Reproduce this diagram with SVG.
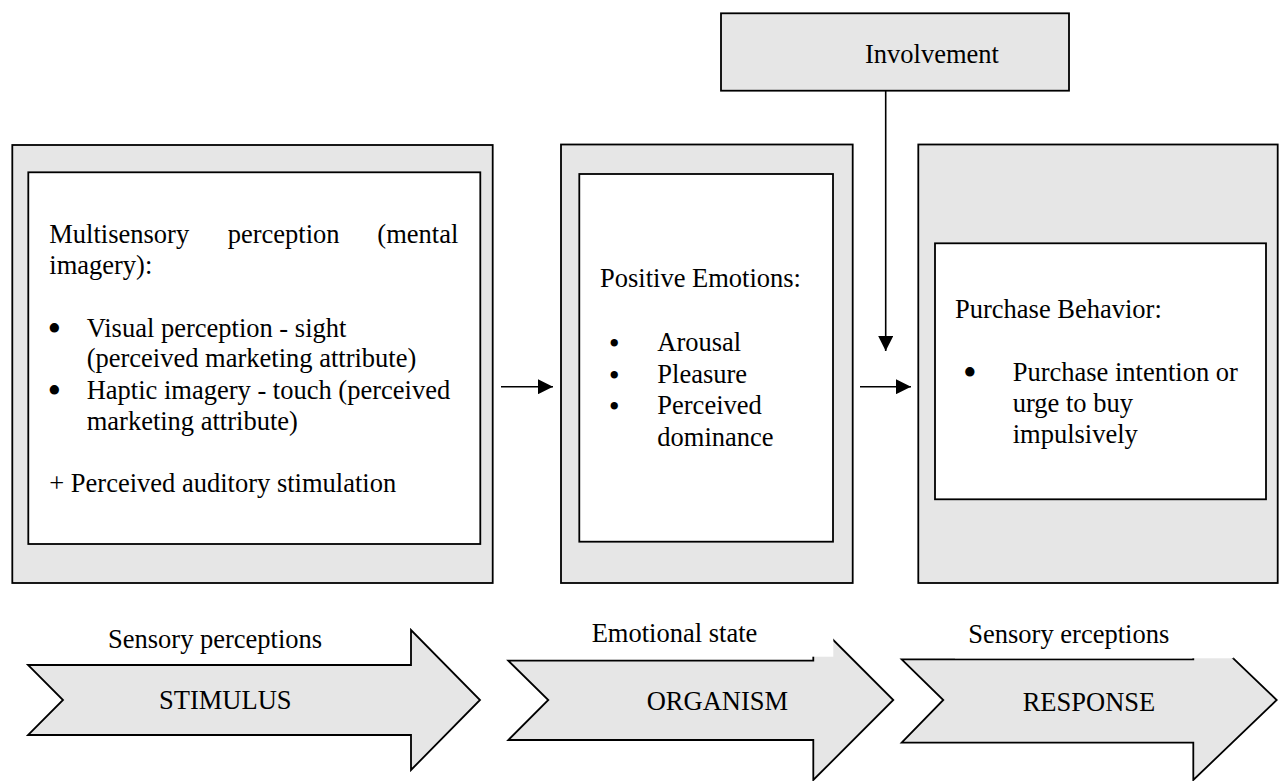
<svg xmlns="http://www.w3.org/2000/svg" width="1284" height="781" viewBox="0 0 1284 781">
<defs>
<style>
.box{fill:#e6e6e6;stroke:#000;stroke-width:1.8}
.inner{fill:#fff;stroke:#000;stroke-width:1.8}
.t{font-family:"Liberation Serif","Times New Roman",serif;font-size:26.5px;fill:#000}
.b{font-family:"Liberation Serif","Times New Roman",serif;font-size:39px;fill:#000}
.bs{font-family:"Liberation Serif","Times New Roman",serif;font-size:27px;fill:#000;font-weight:bold}
.conn{stroke:#000;stroke-width:1.6;fill:none}
.big{fill:#e6e6e6;stroke:#000;stroke-width:1.8;stroke-linejoin:miter}
.mask{fill:#fff;stroke:none}
</style>
<marker id="ah" viewBox="0 0 10 10" refX="10" refY="5" markerUnits="userSpaceOnUse" markerWidth="15" markerHeight="15" orient="auto">
<path d="M0,0 L10,5 L0,10 z" fill="#000"/>
</marker>
</defs>
<rect width="1284" height="781" fill="#fff"/>

<g id="involvement">
<rect class="box" x="721" y="13.3" width="348" height="77.4"/>
<text class="t" x="865" y="63">Involvement</text>
</g>

<g id="stimulus-box">
<rect class="box" x="12.3" y="145" width="480.4" height="438"/>
<rect class="inner" x="28.3" y="172.3" width="452" height="371.7"/>
<text class="t" x="49.3" y="243">Multisensory</text>
<text class="t" x="227.7" y="243">perception</text>
<text class="t" x="458.3" y="243" text-anchor="end">(mental</text>
<text class="t" x="49.3" y="274">imagery):</text>
<text class="b" x="47.6" y="341.5">•</text>
<text class="t" x="86.7" y="336.5">Visual perception - sight</text>
<text class="t" x="86.7" y="367">(perceived marketing attribute)</text>
<text class="b" x="47.6" y="404">•</text>
<text class="t" x="86.7" y="399">Haptic imagery - touch (perceived</text>
<text class="t" x="86.7" y="430">marketing attribute)</text>
<text class="t" x="49.3" y="491.5">+ Perceived auditory stimulation</text>
</g>

<g id="organism-box">
<rect class="box" x="561" y="144.5" width="291.7" height="438.5"/>
<rect class="inner" x="579.3" y="174" width="253.7" height="367.7"/>
<text class="t" x="600" y="287.3">Positive Emotions:</text>
<text class="bs" x="609.5" y="352">•</text>
<text class="t" x="657.3" y="351">Arousal</text>
<text class="bs" x="609.5" y="383.7">•</text>
<text class="t" x="657.3" y="382.7">Pleasure</text>
<text class="bs" x="609.5" y="415.4">•</text>
<text class="t" x="657.3" y="414.4">Perceived</text>
<text class="t" x="657.3" y="445.5">dominance</text>
</g>

<g id="response-box">
<rect class="box" x="918.3" y="144.5" width="359.4" height="438.5"/>
<rect class="inner" x="935" y="243.3" width="331" height="256"/>
<text class="t" x="955" y="318.3">Purchase Behavior:</text>
<text class="b" x="963" y="386">•</text>
<text class="t" x="1012.7" y="381">Purchase intention or</text>
<text class="t" x="1012.7" y="412">urge to buy</text>
<text class="t" x="1012.7" y="443">impulsively</text>
</g>

<g id="stimulus-arrow">
<polygon class="big" points="28,665 411,665 411,630 480,700 411,770 411,735 28,735 63,700"/>
<text class="t" x="108" y="648">Sensory perceptions</text>
<text class="t" x="159" y="709">STIMULUS</text>
</g>

<g id="organism-arrow">
<polygon class="big" points="508.3,660.7 813.3,660.7 813.3,620 893.3,700 813.3,780 813.3,740 508.3,740 548.3,700"/>
<rect class="mask" x="580" y="612" width="253.3" height="44.7"/>
<text class="t" x="591.7" y="641.7">Emotional state</text>
<text class="t" x="646.7" y="710">ORGANISM</text>
</g>

<g id="response-arrow">
<polygon class="big" points="901.7,659.3 1193.3,659.3 1193.3,620 1276.7,700 1193.3,780 1193.3,742.7 901.7,742.7 943.3,700"/>
<rect class="mask" x="955" y="612" width="278.5" height="46.3"/>
<text class="t" x="968.3" y="642.7">Sensory erceptions</text>
<text class="t" x="1022.7" y="711">RESPONSE</text>
</g>

<g id="connectors">
<line class="conn" x1="501" y1="386.7" x2="553" y2="386.7" marker-end="url(#ah)"/>
<line class="conn" x1="860" y1="386.7" x2="911" y2="386.7" marker-end="url(#ah)"/>
<line class="conn" x1="885.7" y1="90.7" x2="885.7" y2="351" marker-end="url(#ah)"/>
</g>
</svg>
